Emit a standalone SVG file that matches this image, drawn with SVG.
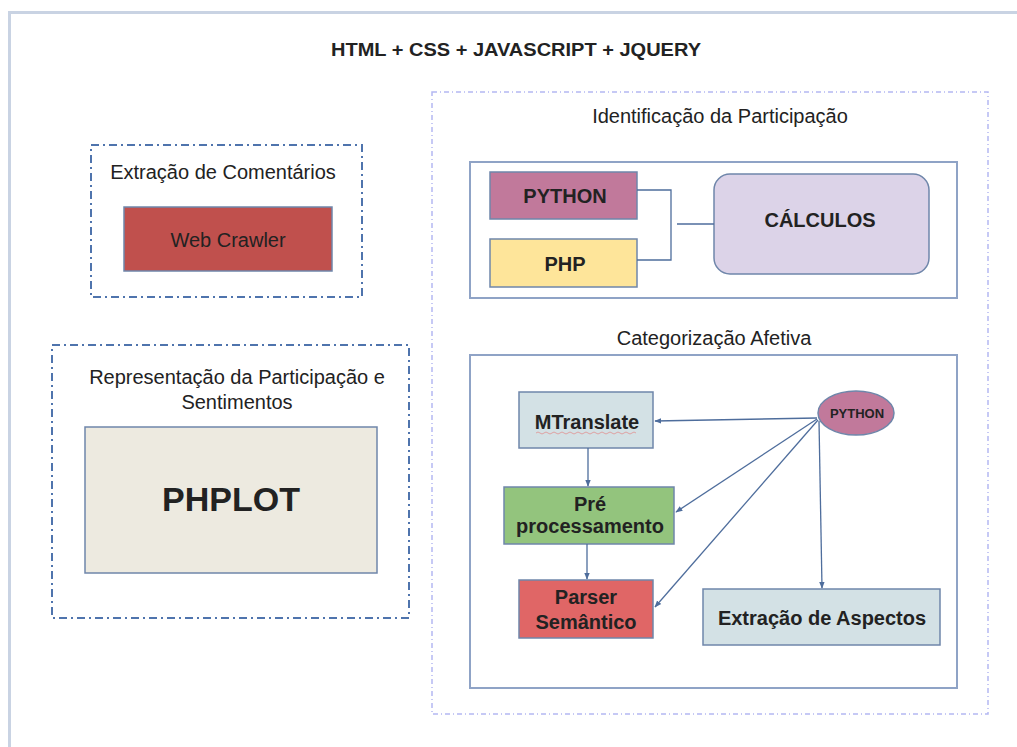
<svg xmlns="http://www.w3.org/2000/svg" width="1017" height="747" viewBox="0 0 1017 747">
<defs>
<style>
.t{font-family:"Liberation Sans",Arial,sans-serif;fill:#222;}
.lbl{font-size:20px;text-anchor:middle;}
.b{font-weight:bold;text-anchor:middle;}
.node{stroke:#6f86aa;stroke-width:1.5;}
.inner{fill:#fff;stroke:#8fa3c6;stroke-width:2;}
.dashdot{fill:none;stroke:#4f74ad;stroke-width:2;stroke-dasharray:8 4 2 4;}
.dotted{fill:none;stroke:#b4b8f2;stroke-width:1.5;stroke-dasharray:5 3 1 3;}
.con{fill:none;stroke:#4e6d9c;stroke-width:1.3;}
</style>
<marker id="ah" viewBox="0 0 10 10" refX="9" refY="5" markerWidth="7" markerHeight="7" orient="auto" markerUnits="userSpaceOnUse">
<path d="M0,1 L10,5 L0,9 z" fill="#4e6d9c"/>
</marker>
</defs>
<rect width="1017" height="747" fill="#fff"/>
<g id="frame">
<path d="M1017,12.5 H9.5 V747" fill="none" stroke="#c9d3e3" stroke-width="3"/>
</g>
<g id="title">
<text class="t b" x="516" y="56" font-size="18" textLength="370" lengthAdjust="spacingAndGlyphs">HTML + CSS + JAVASCRIPT + JQUERY</text>
</g>
<g id="extracao-comentarios">
<rect class="dashdot" x="91" y="145" width="271" height="152"/>
<text class="t lbl" x="223" y="179">Extração de Comentários</text>
</g>
<g id="web-crawler">
<rect class="node" x="124" y="207" width="208" height="64" fill="#c0504d"/>
<text class="t lbl" x="228" y="247">Web Crawler</text>
</g>
<g id="representacao">
<rect class="dashdot" x="52" y="345" width="357" height="273"/>
<text class="t lbl" x="237" y="384">Representação da Participação e</text>
<text class="t lbl" x="237" y="409">Sentimentos</text>
</g>
<g id="phplot">
<rect class="node" x="85" y="427" width="292" height="146" fill="#edeae0"/>
<text class="t b" x="231" y="511" font-size="34">PHPLOT</text>
</g>
<g id="identificacao">
<rect class="dotted" x="432" y="92" width="556" height="622"/>
<text class="t lbl" x="720" y="123">Identificação da Participação</text>
<rect class="inner" x="470" y="162" width="487" height="136"/>
</g>
<g id="python-box">
<rect class="node" x="490" y="172" width="147" height="47" fill="#c1799b"/>
<text class="t b" x="565" y="203" font-size="20">PYTHON</text>
</g>
<g id="php-box">
<rect class="node" x="490" y="239" width="147" height="48" fill="#fee59a"/>
<text class="t b" x="565" y="271" font-size="20">PHP</text>
</g>
<g id="calculos">
<rect class="node" x="714" y="174" width="215" height="100" rx="16" ry="16" fill="#dcd3e8"/>
<text class="t b" x="820" y="227" font-size="20">CÁLCULOS</text>
</g>
<g id="categorizacao">
<text class="t lbl" x="714" y="345">Categorização Afetiva</text>
<rect class="inner" x="470" y="355" width="487" height="333"/>
</g>
<g id="mtranslate">
<rect class="node" x="519" y="392" width="134" height="56" fill="#d3e1e5"/>
<text class="t b" x="587" y="429" font-size="20">MTranslate</text>
<path d="M536,433 q2,-2 4,0 t4,0 t4,0 t4,0 t4,0 t4,0 t4,0 t4,0 t4,0 t4,0 t4,0 t4,0 t4,0 t4,0 t4,0 t4,0 t4,0 t4,0 t4,0 t4,0 t4,0 t4,0 t4,0 t4,0 t4,0" fill="none" stroke="#e09090" stroke-width="0.8"/>
</g>
<g id="pre-processamento">
<rect class="node" x="504" y="487" width="170" height="57" fill="#93c47d"/>
<text class="t b" x="590" y="511" font-size="20">Pré</text>
<text class="t b" x="590" y="533" font-size="20">processamento</text>
</g>
<g id="parser">
<rect class="node" x="519" y="580" width="134" height="58" fill="#e06666"/>
<text class="t b" x="586" y="604" font-size="20">Parser</text>
<text class="t b" x="586" y="629" font-size="20">Semântico</text>
</g>
<g id="extracao-aspectos">
<rect class="node" x="703" y="589" width="237" height="56" fill="#d3e1e5"/>
<text class="t b" x="822" y="625" font-size="20">Extração de Aspectos</text>
</g>
<g id="python-ellipse">
<ellipse class="node" cx="856" cy="413" rx="38" ry="22" fill="#c1799b"/>
<text class="t b" x="857" y="418" font-size="13">PYTHON</text>
</g>
<g id="connectors">
<path class="con" d="M637,190 H671 V260 H637"/>
<path class="con" d="M677,224 H714"/>
<path class="con" d="M817,418 L655,421" marker-end="url(#ah)"/>
<path class="con" d="M817,419 L676,512" marker-end="url(#ah)"/>
<path class="con" d="M818,420 L655,607" marker-end="url(#ah)"/>
<path class="con" d="M819,421 L822,588" marker-end="url(#ah)"/>
<path class="con" d="M588,448 V486" marker-end="url(#ah)"/>
<path class="con" d="M587,544 V579" marker-end="url(#ah)"/>
</g>
</svg>
